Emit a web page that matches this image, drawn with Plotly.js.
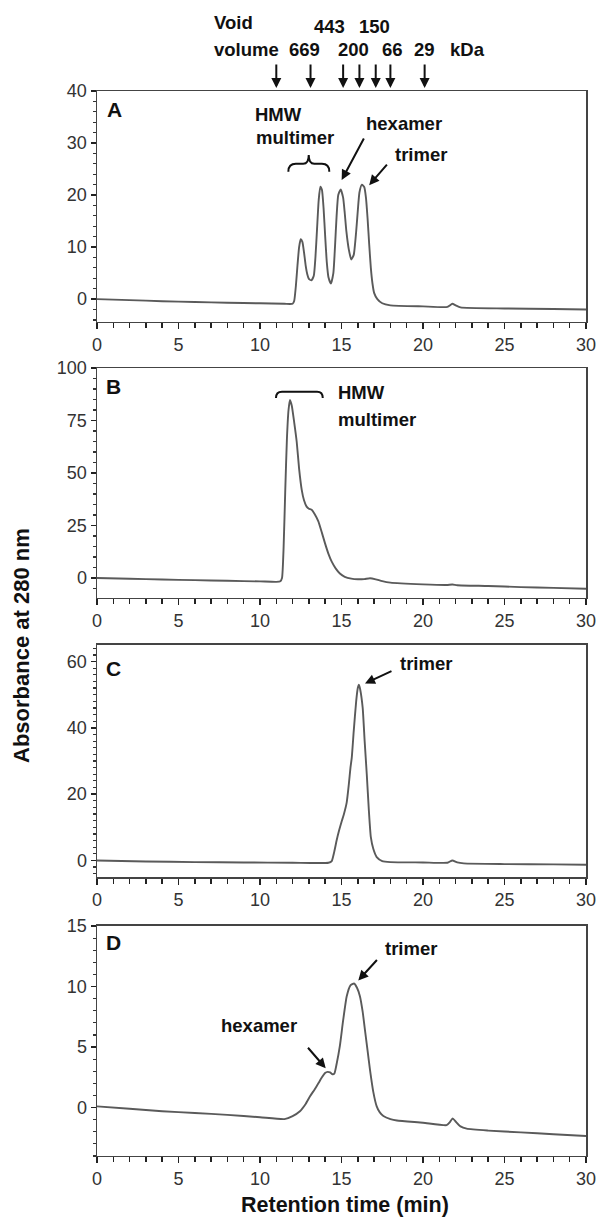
<!DOCTYPE html>
<html>
<head>
<meta charset="utf-8">
<script src="https://cdn.plot.ly/plotly-3.0.1.min.js"></script>
<style>html,body{margin:0;padding:0;background:#fff;}#chart{width:599px;height:1222px;}</style>
</head>
<body>
<div id="chart"></div>
<script>
// ---- Panel A ----
const timeA = [0,2,4,6,8,10,11.5,12.0,12.1,12.2,12.3,12.4,12.5,12.6,12.7,12.8,12.9,13.0,13.15,13.3,13.4,13.5,13.6,13.7,13.8,13.9,14.0,14.1,14.2,14.35,14.5,14.6,14.7,14.8,14.95,15.1,15.2,15.3,15.45,15.6,15.75,15.9,16.0,16.1,16.25,16.4,16.5,16.6,16.7,16.8,16.9,17.0,17.2,17.5,18,20,21.5,21.8,22.0,22.3,25,28,30];
const absA  = [0,-0.2,-0.4,-0.55,-0.7,-0.8,-0.9,-0.9,-0.3,2.5,6.5,10,11.5,11,9,6.5,4.8,3.9,3.6,4.5,8,13.5,19,21.6,21,17.5,12,7,4.2,3.0,5,10,16,20,21.1,19.5,16.5,13,9.5,7.6,8.5,13,17,20.5,22,21.5,19.5,15.5,10.5,6,3,1.2,0,-0.8,-1.2,-1.4,-1.5,-0.9,-1.2,-1.6,-1.8,-1.9,-2.0];
// ---- Panel B ----
const timeB = [0,2,4,6,8,10,11.0,11.25,11.35,11.45,11.55,11.65,11.75,11.84,11.95,12.1,12.25,12.4,12.56,12.7,12.86,13.0,13.17,13.35,13.58,13.8,13.99,14.2,14.4,14.65,14.9,15.2,15.6,16.0,16.4,16.75,17.1,17.5,18,20,21.45,21.8,22.1,24,26,28,30];
const absB  = [0,-0.3,-0.7,-1.0,-1.3,-1.6,-1.8,-1.5,0,15,42,66,80,84.8,82,74,65,52,42,37,34,33,32.5,30.5,27,21.5,16.5,11.5,7.8,4.5,2.2,0.6,-0.3,-0.6,-0.5,-0.1,-0.6,-1.5,-2.2,-3.0,-3.3,-3.1,-3.4,-3.8,-4.3,-4.7,-5.1];
// ---- Panel C ----
const timeC = [0,3,6,9,12,14.2,14.4,14.55,14.7,14.85,15.0,15.15,15.32,15.45,15.55,15.63,15.75,15.9,16.0,16.07,16.15,16.3,16.42,16.55,16.68,16.8,16.95,17.16,17.5,18,20,21.5,21.8,22.1,22.5,25,28,30];
const absC  = [0,-0.3,-0.5,-0.6,-0.7,-0.7,-0.2,2.5,6,9,11.6,14,17.5,23,28,31,39,48,52,53,51.5,46,36,26,15,7,3.5,1,-0.2,-0.5,-0.6,-0.7,0,-0.6,-0.9,-1.1,-1.2,-1.3];
// ---- Panel D ----
const timeD = [0,2,4,6,8,10,11.5,12.0,12.45,12.8,13.07,13.35,13.58,13.8,13.99,14.15,14.3,14.45,14.56,14.7,14.9,15.1,15.32,15.55,15.77,15.95,16.13,16.3,16.44,16.6,16.75,16.95,17.16,17.35,17.57,18.0,18.4,20,21.45,21.65,21.82,22.0,22.3,22.68,24,26,28,30];
const absD  = [0.1,-0.1,-0.3,-0.45,-0.6,-0.8,-0.95,-0.7,-0.3,0.3,0.93,1.5,2.0,2.5,2.85,2.95,2.9,2.75,2.8,3.6,5.1,7.2,9.2,10.1,10.25,9.9,9.2,7.9,6.4,4.7,3.1,1.3,0.1,-0.4,-0.7,-0.95,-1.07,-1.25,-1.45,-1.2,-0.9,-1.15,-1.55,-1.74,-1.9,-2.05,-2.2,-2.35];

// Molecular-weight markers (kDa) above panel A
const markerTimes = [11.0, 13.1, 15.1, 16.1, 17.1, 18.0, 20.1];
const panelLabels = ['A','B','C','D'];

const FONT = 'Liberation Sans, Arial, Helvetica, sans-serif';
const lineStyle = {color:'#5a5a5a', width:1.9, shape:'spline', smoothing:0.5};

const traces = [
  {x:timeA, y:absA, xaxis:'x',  yaxis:'y',  mode:'lines', line:lineStyle, hoverinfo:'skip'},
  {x:timeB, y:absB, xaxis:'x2', yaxis:'y2', mode:'lines', line:lineStyle, hoverinfo:'skip'},
  {x:timeC, y:absC, xaxis:'x3', yaxis:'y3', mode:'lines', line:lineStyle, hoverinfo:'skip'},
  {x:timeD, y:absD, xaxis:'x4', yaxis:'y4', mode:'lines', line:lineStyle, hoverinfo:'skip'}
];

function xAx(anchor){
  return {anchor:anchor, range:[0,30], dtick:5, ticks:'outside', ticklen:6, tickwidth:1.5, tickcolor:'#222',
    minor:{dtick:1, ticks:'outside', ticklen:5, tickwidth:1.5, tickcolor:'#222'},
    showline:true, mirror:true, linecolor:'#444', linewidth:1.5, showgrid:false, zeroline:false,
    tickfont:{family:FONT, size:18, color:'#333'}, automargin:false, fixedrange:true};
}
function yAx(anchor, range, dtick, mdtick, domain){
  return {anchor:anchor, domain:domain, range:range, dtick:dtick, tick0:0, ticks:'outside', ticklen:5, tickwidth:1.5, tickcolor:'#222',
    minor:{dtick:mdtick, tick0:0, ticks:'outside', ticklen:3, tickwidth:1.2, tickcolor:'#333'},
    showline:true, mirror:true, linecolor:'#444', linewidth:1.5, showgrid:false, zeroline:false,
    tickfont:{family:FONT, size:18, color:'#333'}, automargin:false, fixedrange:true};
}

const bold = (s)=>({family:FONT, size:s, color:'#111', weight:'bold'});
function txt(xr, yr, x, y, text, size){
  return {xref:xr, yref:yr, x:x, y:y, text:'<b>'+text+'</b>', showarrow:false, xanchor:'left', yanchor:'middle', font:bold(size||18.5)};
}
function arr(xr, yr, x, y, ax, ay){
  return {xref:xr, yref:yr, x:x, y:y, ax:ax, ay:ay, text:'', showarrow:true, arrowhead:2, arrowsize:1, arrowwidth:2, arrowcolor:'#111'};
}

const annotations = [];
// top marker labels (above panel A, vertical position in paper units)
annotations.push(txt('x','paper',7.04,0.9812,'Void'));
annotations.push(txt('x','paper',7.04,0.9599,'volume'));
annotations.push(txt('x','paper',13.17,0.9787,'443'));
annotations.push(txt('x','paper',15.93,0.9787,'150'));
annotations.push(txt('x','paper',11.67,0.9591,'669'));
annotations.push(txt('x','paper',14.66,0.9591,'200'));
annotations.push(txt('x','paper',17.36,0.9591,'66'));
annotations.push(txt('x','paper',19.31,0.9591,'29'));
annotations.push(txt('x','paper',21.55,0.9591,'kDa'));
markerTimes.forEach(t=>annotations.push(arr('x','paper',t,0.9280,0,-25)));
// panel letters
annotations.push(txt('x','y',0.5,36.5,panelLabels[0],21));
annotations.push(txt('x2','y2',0.45,91.1,panelLabels[1],21));
annotations.push(txt('x3','y3',0.45,57.8,panelLabels[2],21));
annotations.push(txt('x4','y4',0.45,13.6,panelLabels[3],21));
// panel A labels
annotations.push(txt('x','y',9.55,35.4,'HMW'));
annotations.push(txt('x','y',9.65,31.0,'multimer'));
annotations.push(txt('x','y',16.4,33.8,'hexamer'));
annotations.push(txt('x','y',18.14,27.7,'trimer'));
annotations.push(arr('x','y',15.01,22.9,23,-43));
annotations.push(arr('x','y',16.7,21.9,19,-22));
// panel B
annotations.push(txt('x2','y2',14.67,88.1,'HMW'));
annotations.push(txt('x2','y2',14.67,75.7,'multimer'));
// panel C
annotations.push(txt('x3','y3',18.44,59.3,'trimer'));
annotations.push(arr('x3','y3',16.44,53.4,28,-13));
// panel D
annotations.push(txt('x4','y4',17.57,13.1,'trimer'));
annotations.push(arr('x4','y4',16.03,10.5,20,-22));
annotations.push(txt('x4','y4',7.5,6.74,'hexamer'));
annotations.push(arr('x4','y4',14.03,3.25,-19,-22));
// axis titles
annotations.push({xref:'paper', yref:'paper', x:-0.1534, y:0.4722, text:'<b>Absorbance at 280 nm</b>', textangle:-90,
  showarrow:false, xanchor:'center', yanchor:'middle', font:bold(22)});
annotations.push({xref:'paper', yref:'paper', x:0.507, y:0.0139, text:'<b>Retention time (min)</b>',
  showarrow:false, xanchor:'center', yanchor:'middle', font:bold(21.5)});

const shapes = [
  {type:'path', xref:'x', yref:'y', line:{color:'#111', width:2},
   path:'M 11.74,24.5 Q 11.74,26 12.2,26 L 12.65,26 Q 12.99,26 12.99,27.7 Q 12.99,26 13.33,26 L 13.8,26 Q 14.25,26 14.25,24.5'},
  {type:'path', xref:'x2', yref:'y2', line:{color:'#111', width:2},
   path:'M 10.98,85.7 Q 10.98,88.7 11.35,88.7 L 13.5,88.7 Q 13.85,88.7 13.85,85.7'}
];

const layout = {
  width:599, height:1222, showlegend:false,
  margin:{l:97, r:13, t:0, b:0, pad:0},
  paper_bgcolor:'#fff', plot_bgcolor:'#fff',
  font:{family:FONT, color:'#333'},
  xaxis:xAx('y'), xaxis2:xAx('y2'), xaxis3:xAx('y3'), xaxis4:xAx('y4'),
  yaxis: yAx('x',  [-4.4,40], 10, 2, [0.73650,0.92553]),
  yaxis2:yAx('x2', [-9.5,100], 25, 5, [0.51064,0.69885]),
  yaxis3:yAx('x3', [-5,65], 20, 2, [0.28232,0.47218]),
  yaxis4:yAx('x4', [-4,15], 5, 1, [0.05401,0.24223]),
  annotations:annotations, shapes:shapes
};

Plotly.newPlot('chart', traces, layout, {staticPlot:true, displayModeBar:false});
</script>
</body>
</html>
